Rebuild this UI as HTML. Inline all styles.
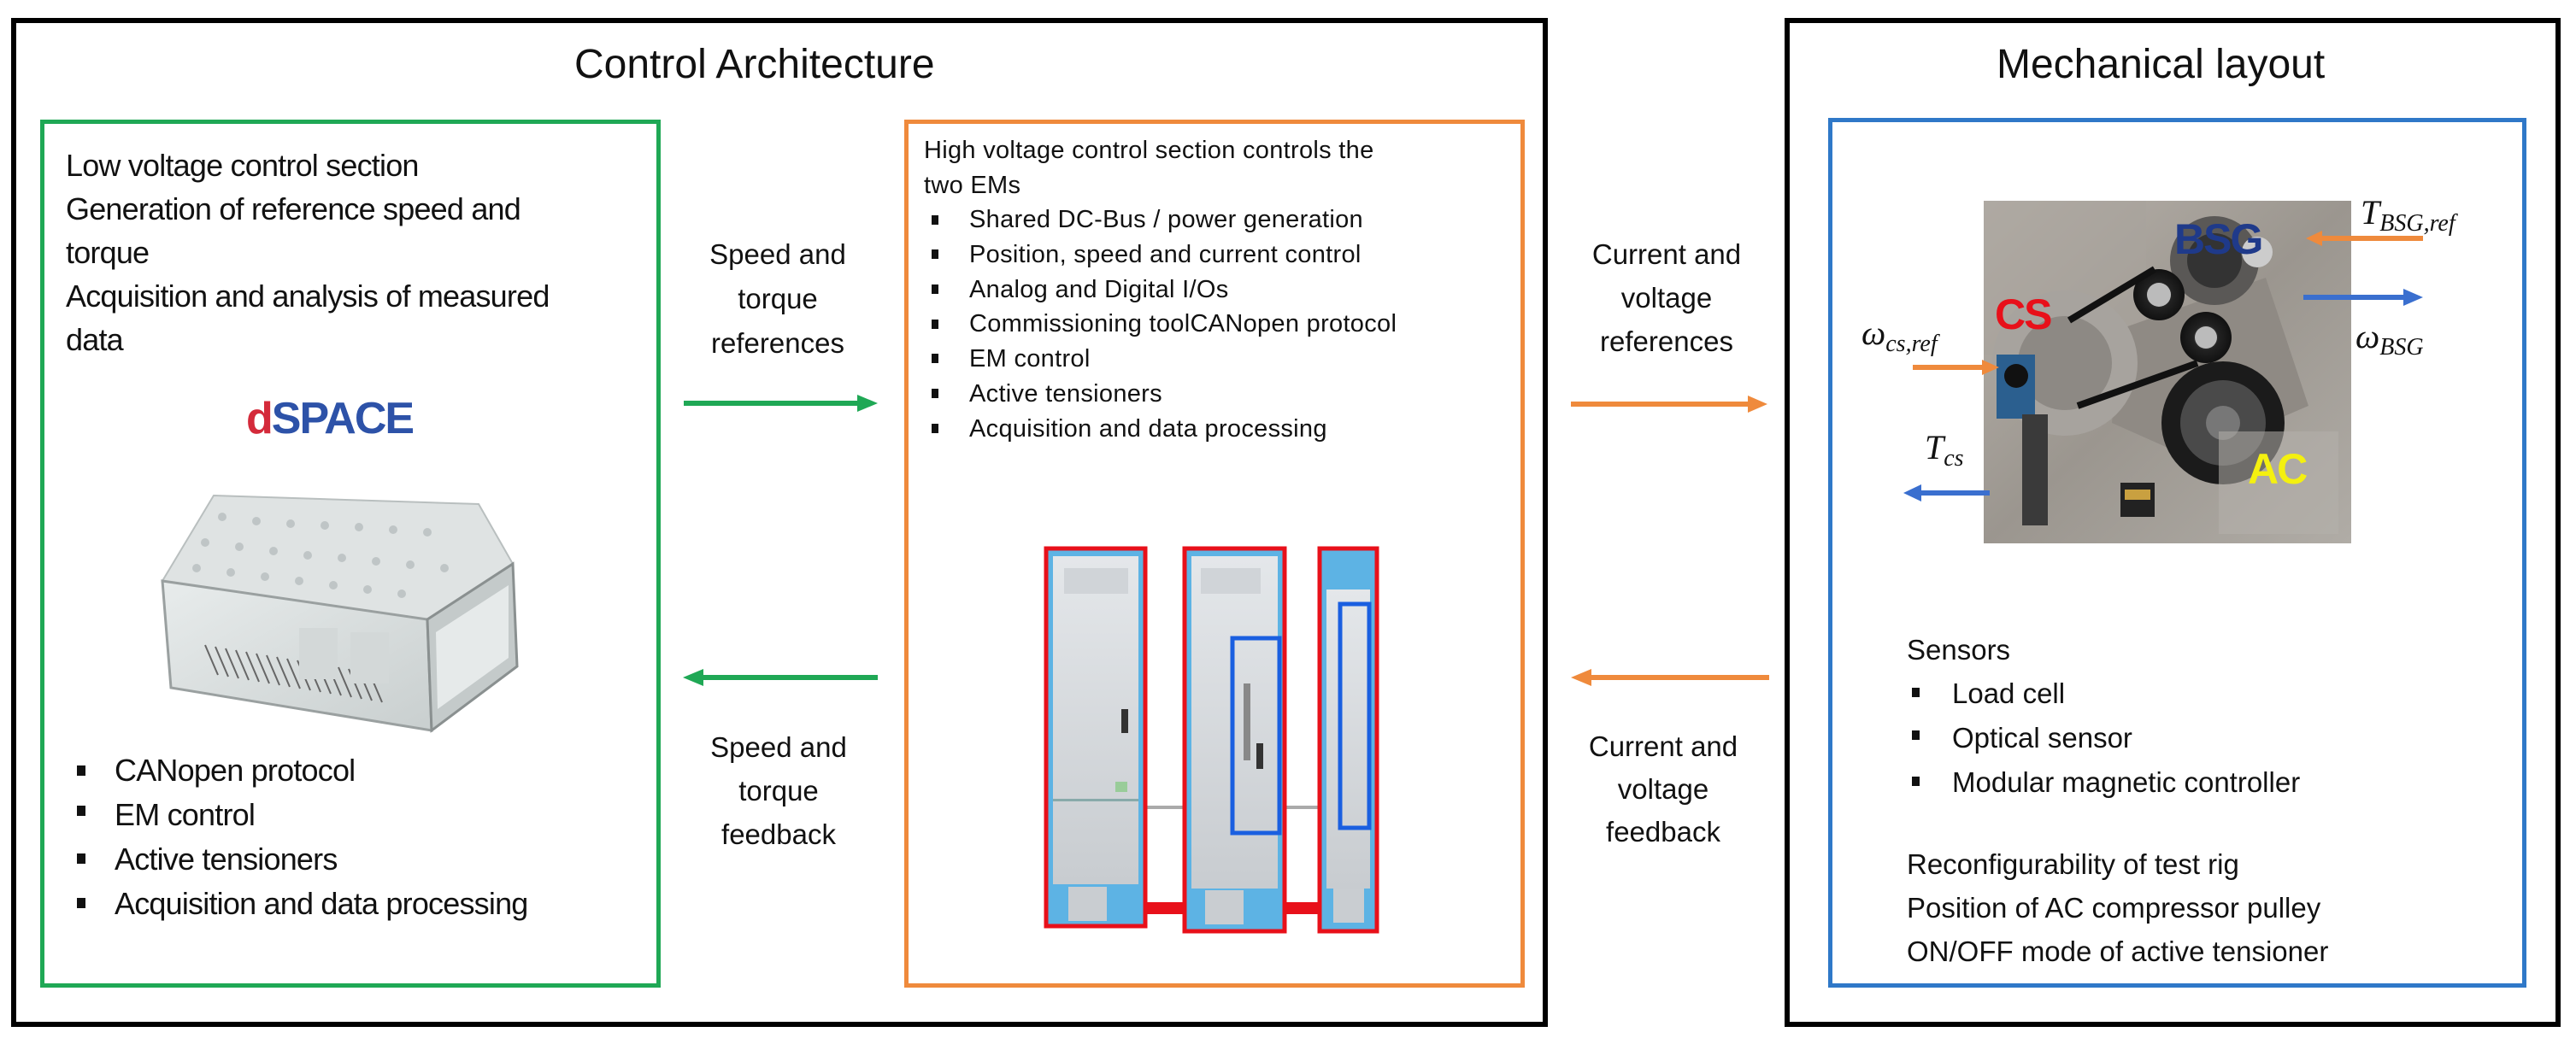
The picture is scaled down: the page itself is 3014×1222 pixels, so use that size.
<!DOCTYPE html>
<html><head><meta charset="utf-8"><style>
*{margin:0;padding:0;box-sizing:border-box}
body{width:3014px;height:1222px;background:#fff;position:relative;overflow:hidden;font-family:"Liberation Sans",sans-serif;color:#111}
.a{position:absolute}
.t{position:absolute;white-space:nowrap}
.c{text-align:center}
.blk{border:6px solid #000}
.bul{position:absolute;width:10px;height:12px;background:#111}
.m{font-family:"Liberation Serif",serif;font-style:italic;font-size:40px;position:absolute;white-space:nowrap;color:#111}
.m sub{font-size:28px;vertical-align:-8px}
</style></head><body>

<div class="a blk" style="left:13px;top:21px;width:1798px;height:1181px"></div>
<div class="a blk" style="left:2088px;top:21px;width:908px;height:1181px"></div>

<div class="t" style="left:672px;top:48px;font-size:48px;">Control Architecture</div>
<div class="t" style="left:2336px;top:48px;font-size:48px;">Mechanical layout</div>

<div class="a" style="left:47px;top:140px;width:726px;height:1016px;border:5px solid #1fa855"></div>
<div class="t" style="left:77px;top:168px;font-size:36px;line-height:51px;letter-spacing:-0.8px">Low voltage control section<br>Generation of reference speed and<br>torque<br>Acquisition and analysis of measured<br>data</div>
<div class="t" style="left:288px;top:462px;font-size:52px;font-weight:bold;letter-spacing:-2px;line-height:56px"><span style="color:#d42a3a">d</span><span style="color:#2d52a8">SPACE</span></div>

<svg class="a" style="left:160px;top:565px" width="470" height="295" viewBox="0 0 470 295">
 <defs><linearGradient id="g1" x1="0" y1="0" x2="1" y2="1"><stop offset="0" stop-color="#e8ecec"/><stop offset="1" stop-color="#c9cfcf"/></linearGradient></defs>
 <polygon points="90,15 400,25 440,95 340,160 30,115" fill="#dfe3e3" stroke="#b9bfbf" stroke-width="2"/>
 <g fill="#bfc5c6">
  <circle cx="100" cy="40" r="5"/><circle cx="140" cy="45" r="5"/><circle cx="180" cy="48" r="5"/><circle cx="220" cy="50" r="5"/><circle cx="260" cy="52" r="5"/><circle cx="300" cy="55" r="5"/><circle cx="340" cy="58" r="5"/>
  <circle cx="80" cy="70" r="5"/><circle cx="120" cy="75" r="5"/><circle cx="160" cy="80" r="5"/><circle cx="200" cy="85" r="5"/><circle cx="240" cy="88" r="5"/><circle cx="280" cy="92" r="5"/><circle cx="320" cy="96" r="5"/><circle cx="360" cy="100" r="5"/>
  <circle cx="70" cy="100" r="5"/><circle cx="110" cy="105" r="5"/><circle cx="150" cy="110" r="5"/><circle cx="190" cy="115" r="5"/><circle cx="230" cy="120" r="5"/><circle cx="270" cy="125" r="5"/><circle cx="310" cy="130" r="5"/>
 </g>
 <polygon points="30,115 340,160 345,290 40,240" fill="url(#g1)" stroke="#9aa0a0" stroke-width="3"/>
 <polygon points="340,160 440,95 445,215 345,290" fill="#c4caca" stroke="#8a9090" stroke-width="3"/>
 <polygon points="350,175 435,120 435,205 352,265" fill="#e6eaea"/>
 <g stroke="#666" stroke-width="2">
  <line x1="80" y1="190" x2="95" y2="225"/><line x1="92" y1="192" x2="107" y2="227"/><line x1="104" y1="194" x2="119" y2="229"/><line x1="116" y1="196" x2="131" y2="231"/><line x1="128" y1="198" x2="143" y2="233"/><line x1="140" y1="200" x2="155" y2="235"/><line x1="152" y1="202" x2="167" y2="237"/><line x1="164" y1="204" x2="179" y2="239"/><line x1="176" y1="206" x2="191" y2="241"/><line x1="188" y1="208" x2="203" y2="243"/><line x1="200" y1="210" x2="215" y2="245"/><line x1="212" y1="212" x2="227" y2="247"/><line x1="224" y1="214" x2="239" y2="249"/><line x1="236" y1="216" x2="251" y2="251"/><line x1="248" y1="218" x2="263" y2="253"/><line x1="260" y1="220" x2="275" y2="255"/><line x1="272" y1="222" x2="287" y2="257"/>
 </g>
 <rect x="190" y="170" width="45" height="60" fill="#d3d8d8"/><rect x="250" y="175" width="45" height="60" fill="#d3d8d8"/>
</svg>

<div class="bul" style="left:90px;top:896px"></div>
<div class="bul" style="left:90px;top:943px"></div>
<div class="bul" style="left:90px;top:999px"></div>
<div class="bul" style="left:90px;top:1051px"></div>
<div class="t" style="left:134px;top:876px;font-size:36px;line-height:52px;letter-spacing:-0.8px">CANopen protocol<br>EM control<br>Active tensioners<br>Acquisition and data processing</div>

<div class="t c" style="left:810px;top:272px;width:200px;font-size:33px;line-height:52px">Speed and<br>torque<br>references</div>
<svg class="a" style="left:795px;top:460px" width="240" height="24"><line x1="5" y1="12" x2="215" y2="12" stroke="#1fa855" stroke-width="6"/><polygon points="208,2 232,12 208,22" fill="#1fa855"/></svg>
<svg class="a" style="left:795px;top:781px" width="240" height="24"><line x1="25" y1="12" x2="232" y2="12" stroke="#1fa855" stroke-width="6"/><polygon points="28,2 4,12 28,22" fill="#1fa855"/></svg>
<div class="t c" style="left:811px;top:849px;width:200px;font-size:33px;line-height:51px">Speed and<br>torque<br>feedback</div>

<div class="a" style="left:1058px;top:140px;width:726px;height:1016px;border:5px solid #ef8a3c"></div>
<div class="t" style="left:1081px;top:156px;font-size:29px;line-height:41px;letter-spacing:0.3px">High voltage control section controls the<br>two EMs</div>
<div class="a" style="left:1090px;top:252px">
 <div class="bul" style="left:0;top:0;width:8px;height:11px"></div>
 <div class="bul" style="left:0;top:40px;width:8px;height:11px"></div>
 <div class="bul" style="left:0;top:81px;width:8px;height:11px"></div>
 <div class="bul" style="left:0;top:122px;width:8px;height:11px"></div>
 <div class="bul" style="left:0;top:162px;width:8px;height:11px"></div>
 <div class="bul" style="left:0;top:203px;width:8px;height:11px"></div>
 <div class="bul" style="left:0;top:244px;width:8px;height:11px"></div>
</div>
<div class="t" style="left:1134px;top:237px;font-size:29px;line-height:40.8px;letter-spacing:0.3px">Shared DC-Bus / power generation<br>Position, speed and current control<br>Analog and Digital I/Os<br>Commissioning toolCANopen protocol<br>EM control<br>Active tensioners<br>Acquisition and data processing</div>

<svg class="a" style="left:1205px;top:630px" width="430" height="480" viewBox="1205 630 430 480">
 <defs><linearGradient id="gp" x1="0" y1="0" x2="0" y2="1"><stop offset="0" stop-color="#e4e7ea"/><stop offset="1" stop-color="#c8ccd0"/></linearGradient></defs>
 <rect x="1338" y="1056" width="50" height="14" fill="#e8101a"/>
 <rect x="1501" y="1056" width="45" height="14" fill="#e8101a"/>
 <line x1="1340" y1="945" x2="1544" y2="945" stroke="#aaa" stroke-width="4"/>
 <rect x="1224" y="642" width="116" height="442" fill="#5db3e4" stroke="#e8101a" stroke-width="5"/>
 <rect x="1232" y="651" width="100" height="384" fill="url(#gp)"/>
 <rect x="1245" y="665" width="75" height="30" fill="#d0d4d8"/>
 <rect x="1232" y="935" width="100" height="3" fill="#8aa"/>
 <rect x="1250" y="1038" width="45" height="40" fill="#c9cdd1"/>
 <rect x="1312" y="830" width="8" height="28" fill="#333"/>
 <rect x="1305" y="915" width="14" height="12" fill="#9c9"/>
 <rect x="1386" y="642" width="117" height="448" fill="#5db3e4" stroke="#e8101a" stroke-width="5"/>
 <rect x="1394" y="651" width="101" height="389" fill="url(#gp)"/>
 <rect x="1405" y="665" width="70" height="30" fill="#d0d4d8"/>
 <rect x="1442" y="747" width="55" height="228" fill="none" stroke="#1a5fe0" stroke-width="5"/>
 <rect x="1455" y="800" width="8" height="90" fill="#888"/><rect x="1470" y="870" width="8" height="30" fill="#333"/>
 <rect x="1410" y="1042" width="45" height="40" fill="#c9cdd1"/>
 <rect x="1544" y="642" width="67" height="448" fill="#5db3e4" stroke="#e8101a" stroke-width="5"/>
 <rect x="1552" y="690" width="51" height="350" fill="url(#gp)"/>
 <rect x="1568" y="707" width="34" height="262" fill="none" stroke="#1a5fe0" stroke-width="5"/>
 <rect x="1560" y="1040" width="36" height="40" fill="#c9cdd1"/>
</svg>

<div class="t c" style="left:1850px;top:272px;width:200px;font-size:33px;line-height:51px">Current and<br>voltage<br>references</div>
<svg class="a" style="left:1830px;top:461px" width="245" height="24"><line x1="8" y1="12" x2="222" y2="12" stroke="#ef8a3c" stroke-width="6"/><polygon points="215,2 238,12 215,22" fill="#ef8a3c"/></svg>
<svg class="a" style="left:1830px;top:781px" width="245" height="24"><line x1="30" y1="12" x2="240" y2="12" stroke="#ef8a3c" stroke-width="6"/><polygon points="32,2 8,12 32,22" fill="#ef8a3c"/></svg>
<div class="t c" style="left:1846px;top:849px;width:200px;font-size:33px;line-height:50px">Current and<br>voltage<br>feedback</div>

<div class="a" style="left:2139px;top:138px;width:817px;height:1018px;border:5px solid #2f78c8"></div>

<svg class="a" style="left:2321px;top:235px" width="430" height="401" viewBox="0 0 430 401">
 <defs>
  <linearGradient id="bg" x1="0" y1="0" x2="1" y2="1"><stop offset="0" stop-color="#b8b2ab"/><stop offset="0.5" stop-color="#9b968f"/><stop offset="1" stop-color="#b0aca6"/></linearGradient>
  <radialGradient id="pl"><stop offset="0" stop-color="#888"/><stop offset="0.5" stop-color="#222"/><stop offset="1" stop-color="#111"/></radialGradient>
 </defs>
 <rect width="430" height="401" fill="url(#bg)"/>
 <rect x="0" y="0" width="190" height="180" fill="#a9a39d" opacity="0.6"/>
 <polygon points="160,150 330,90 380,240 240,300 150,260" fill="#8f8a84"/>
 <circle cx="95" cy="190" r="85" fill="#a7a39e"/>
 <circle cx="95" cy="190" r="55" fill="#8d8984"/>
 <rect x="15" y="180" width="45" height="75" fill="#2b5f8f"/>
 <circle cx="38" cy="205" r="14" fill="#111"/>
 <rect x="45" y="250" width="30" height="130" fill="#3a3a3a"/>
 <circle cx="270" cy="70" r="52" fill="#5a5856"/>
 <circle cx="270" cy="70" r="32" fill="#333"/>
 <circle cx="205" cy="110" r="30" fill="url(#pl)"/>
 <circle cx="205" cy="110" r="14" fill="#bbb"/>
 <circle cx="320" cy="60" r="18" fill="#ccc"/>
 <circle cx="260" cy="160" r="30" fill="url(#pl)"/>
 <circle cx="260" cy="160" r="13" fill="#bbb"/>
 <circle cx="280" cy="260" r="72" fill="#1b1b1b"/>
 <circle cx="280" cy="260" r="50" fill="#4a4a4a"/>
 <circle cx="280" cy="260" r="20" fill="#777"/>
 <path d="M100,140 L200,80 M110,240 L250,190" stroke="#111" stroke-width="8" fill="none"/>
 <rect x="275" y="270" width="140" height="120" fill="#b5b1ac" opacity="0.55"/>
 <rect x="160" y="330" width="40" height="40" fill="#222"/><rect x="165" y="338" width="30" height="12" fill="#c9a040"/>
</svg>
<div class="t" style="left:2544px;top:255px;font-size:50px;font-weight:bold;color:#1f3a8a;letter-spacing:-2px;line-height:50px">BSG</div>
<div class="t" style="left:2334px;top:343px;font-size:50px;font-weight:bold;color:#e8101a;letter-spacing:-2px;line-height:50px">CS</div>
<div class="t" style="left:2630px;top:524px;font-size:50px;font-weight:bold;color:#f4f010;letter-spacing:-2px;line-height:50px">AC</div>

<div class="m" style="left:2762px;top:225px">T<sub>BSG,ref</sub></div>
<svg class="a" style="left:2695px;top:267px" width="145" height="24"><line x1="20" y1="12" x2="140" y2="12" stroke="#ef8a3c" stroke-width="6"/><polygon points="22,3 3,12 22,21" fill="#ef8a3c"/></svg>
<svg class="a" style="left:2690px;top:336px" width="150" height="24"><line x1="5" y1="12" x2="125" y2="12" stroke="#3a6fcf" stroke-width="6"/><polygon points="122,2 145,12 122,22" fill="#3a6fcf"/></svg>
<div class="m" style="left:2756px;top:370px">ω<sub>BSG</sub></div>
<div class="m" style="left:2178px;top:366px">ω<sub>cs,ref</sub></div>
<svg class="a" style="left:2234px;top:418px" width="110" height="24"><line x1="4" y1="12" x2="88" y2="12" stroke="#ef8a3c" stroke-width="6"/><polygon points="85,3 105,12 85,21" fill="#ef8a3c"/></svg>
<div class="m" style="left:2252px;top:500px">T<sub>cs</sub></div>
<svg class="a" style="left:2224px;top:565px" width="108" height="24"><line x1="22" y1="12" x2="104" y2="12" stroke="#3a6fcf" stroke-width="6"/><polygon points="24,2 3,12 24,22" fill="#3a6fcf"/></svg>

<div class="t" style="left:2231px;top:738px;font-size:33px;line-height:46px">Sensors</div>
<div class="bul" style="left:2237px;top:805px;width:9px;height:11px"></div>
<div class="bul" style="left:2237px;top:855px;width:9px;height:11px"></div>
<div class="bul" style="left:2237px;top:909px;width:9px;height:11px"></div>
<div class="t" style="left:2284px;top:786px;font-size:33px;line-height:52px">Load cell<br>Optical sensor<br>Modular magnetic controller</div>
<div class="t" style="left:2231px;top:986px;font-size:33px;line-height:51px">Reconfigurability of test rig<br>Position of AC compressor pulley<br>ON/OFF mode of active tensioner</div>

</body></html>
